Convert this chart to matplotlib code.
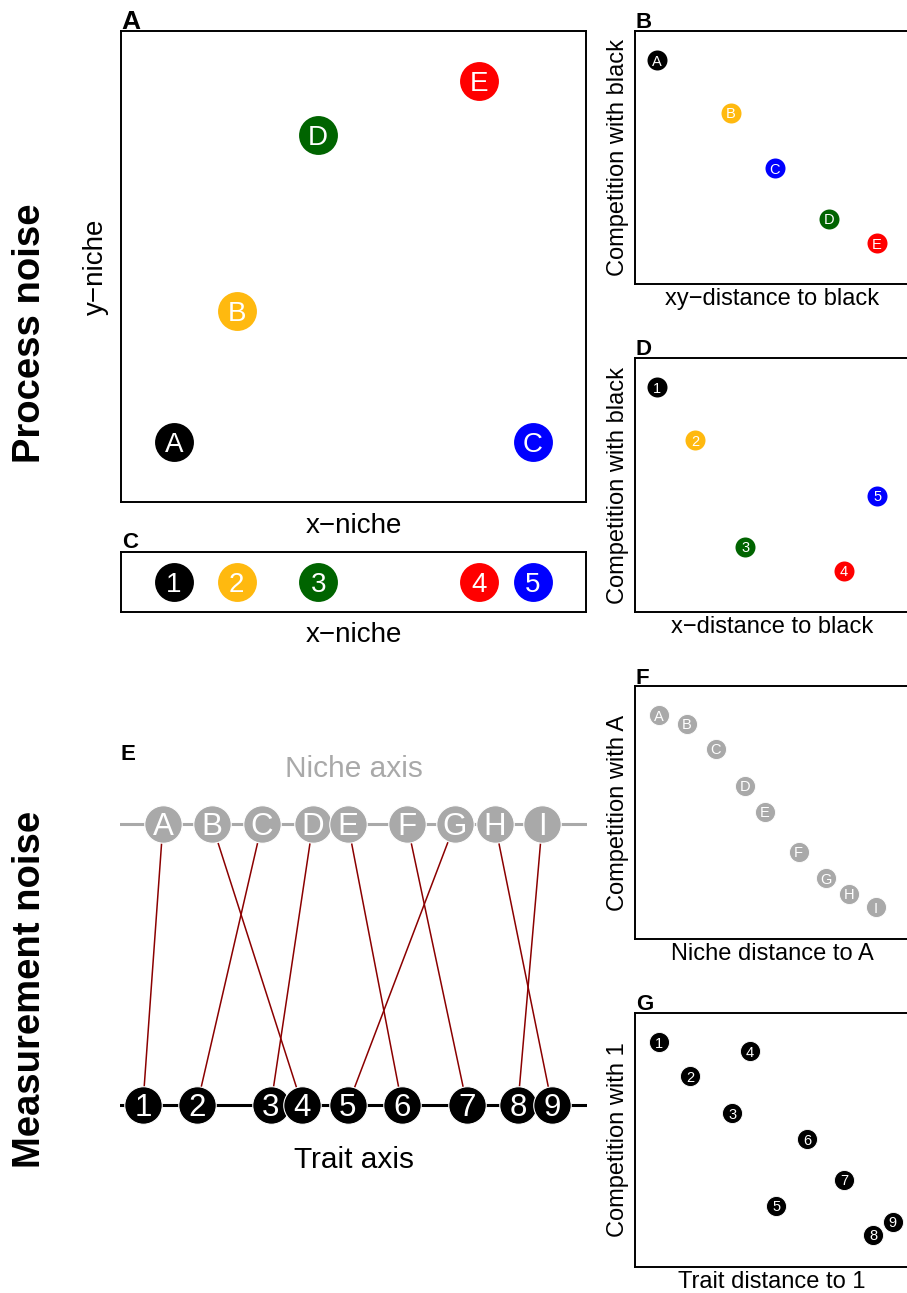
import matplotlib
matplotlib.use('Agg')
import matplotlib.pyplot as plt
import numpy as np

plt.rcParams['font.family'] = ['Liberation Sans', 'DejaVu Sans']

# ---- data ----
# process noise: five species on a 2D niche (panel A) and 1D niche (panel C)
xy_labels = ['A', 'B', 'C', 'D', 'E']
xy_colors = ['black', '#FFB90F', 'blue', 'darkgreen', 'red']
x_niche = [1.14, 2.49, 8.86, 4.24, 7.70]
y_niche = [1.27, 4.05, 1.27, 7.79, 8.93]
xy_dist = [0.0, 2.60, 4.14, 6.04, 7.72]
comp_black = [0.885, 0.676, 0.458, 0.257, 0.162]

# measurement noise: nine species, niche axis vs measured trait axis
niche_labels = ['A', 'B', 'C', 'D', 'E', 'F', 'G', 'H', 'I']
niche_pos = [0.92, 1.97, 3.04, 4.13, 4.88, 6.15, 7.17, 8.03, 9.04]
trait_labels = ['1', '2', '3', '4', '5', '6', '7', '8', '9']
trait_pos = [0.49, 1.65, 3.23, 3.90, 4.88, 6.04, 7.43, 8.52, 9.25]
trait_of_niche = [1, 4, 2, 3, 6, 7, 5, 9, 8]
comp_A = [0.885, 0.850, 0.751, 0.605, 0.502, 0.344, 0.241, 0.178, 0.126]

W, H = 907, 1293
fig = plt.figure(figsize=(W / 100, H / 100), dpi=100)


def box(l, t, r, b):
    return [l / W, 1 - b / H, (r - l) / W, (b - t) / H]


def frame(ax):
    ax.set_xticks([])
    ax.set_yticks([])
    for s in ax.spines.values():
        s.set_linewidth(1.4)


def tag(ax, s, size, dy=1.5):
    ax.annotate(s, (0, 1), xycoords='axes fraction', xytext=(0.5, dy),
                textcoords='offset points', ha='left', va='baseline',
                fontsize=size, fontweight='bold', annotation_clip=False)


def discs(ax, xs, ys, labels, colors, ms, fs, mec='none', mew=0):
    for x, y, c in zip(xs, ys, colors):
        ax.plot(x, y, 'o', ms=ms, color=c, mec=mec, mew=mew, zorder=3, clip_on=False)
    for x, y, lab in zip(xs, ys, labels):
        ax.text(x, y, lab, color='white', fontsize=fs, ha='center',
                va='center_baseline', zorder=4, clip_on=False)


# rank of each species along x (labels of panel C / D)
rank = np.argsort(np.argsort(x_niche))
rank_labels = [str(r + 1) for r in rank]

R = 909  # right edge of the right-hand panels (just past the figure edge)

# ---- A : 2D niche ----
axA = fig.add_axes(box(121, 30.7, 586, 502))
frame(axA)
axA.set_xlim(0, 10)
axA.set_ylim(0, 10)
discs(axA, x_niche, y_niche, xy_labels, xy_colors, 28, 20)
axA.set_xlabel('x\u2212niche', fontsize=20, labelpad=8)
axA.set_ylabel('y\u2212niche', fontsize=20, labelpad=9)
tag(axA, 'A', 19)

# ---- C : 1D niche ----
axC = fig.add_axes(box(121, 552, 586, 612))
frame(axC)
axC.set_xlim(0, 10)
axC.set_ylim(-1, 1)
discs(axC, x_niche, np.zeros(5), rank_labels, xy_colors, 28, 20)
axC.set_xlabel('x\u2212niche', fontsize=20, labelpad=7)
tag(axC, 'C', 16, dy=3)

# ---- B : competition vs xy distance ----
axB = fig.add_axes(box(635, 31, R, 284))
frame(axB)
axB.set_xlim(-0.772, (R - 657) / 28.5)
axB.set_ylim(0, 1)
discs(axB, xy_dist, comp_black, xy_labels, xy_colors, 14.4, 10.5)
axB.set_xlabel('xy\u2212distance to black', fontsize=17, labelpad=3)
axB.set_ylabel('Competition with black', fontsize=17, labelpad=4)
tag(axB, 'B', 16, dy=2.5)

# ---- D : competition vs x distance ----
axD = fig.add_axes(box(635, 358, R, 612))
frame(axD)
axD.set_xlim(-0.772, (R - 657) / 28.5)
axD.set_ylim(0, 1)
x_dist = np.abs(np.array(x_niche) - x_niche[0])
discs(axD, x_dist, comp_black, rank_labels, xy_colors, 14.4, 10.5)
axD.set_xlabel('x\u2212distance to black', fontsize=17, labelpad=3)
axD.set_ylabel('Competition with black', fontsize=17, labelpad=4)
tag(axD, 'D', 16, dy=2.5)

# ---- E : niche axis vs trait axis ----
axE = fig.add_axes(box(120, 700, 587, 1200))
axE.axis('off')
axE.set_xlim(0, 10)
axE.set_ylim(0, 1)
y_top, y_bot = 0.752, 0.19
axE.axhline(y_top, color='darkgray', lw=2.2, zorder=1)
axE.axhline(y_bot, color='black', lw=2.2, zorder=1)
for i, t in enumerate(trait_of_niche):
    axE.plot([niche_pos[i], trait_pos[t - 1]], [y_top, y_bot], color='darkred', lw=1.1, zorder=2)
discs(axE, niche_pos, [y_top] * 9, niche_labels, ['darkgray'] * 9, 27, 22.5, mec='white', mew=0.8)
discs(axE, trait_pos, [y_bot] * 9, trait_labels, ['black'] * 9, 27, 22.5, mec='white', mew=0.8)
axE.text(0.5, 0.862, 'Niche axis', transform=axE.transAxes, ha='center', va='center',
         fontsize=21.5, color='darkgray')
axE.text(0.5, 0.08, 'Trait axis', transform=axE.transAxes, ha='center', va='center',
         fontsize=21.5)
fig.text(121 / W, 1 - 760 / H, 'E', fontsize=16, fontweight='bold', ha='left', va='baseline')

# ---- F : competition vs niche distance ----
axF = fig.add_axes(box(635, 686, R, 939))
frame(axF)
axF.set_xlim(-0.90, (R - 659) / 26.7)
axF.set_ylim(0, 1)
n_dist = np.array(niche_pos) - niche_pos[0]
discs(axF, n_dist, comp_A, niche_labels, ['darkgray'] * 9, 14.4, 10.5, mec='white', mew=0.6)
axF.set_xlabel('Niche distance to A', fontsize=17, labelpad=3)
axF.set_ylabel('Competition with A', fontsize=17, labelpad=4)
tag(axF, 'F', 16, dy=1.5)

# ---- G : competition vs trait distance ----
axG = fig.add_axes(box(635, 1013, R, 1267))
frame(axG)
axG.set_xlim(-0.90, (R - 659) / 26.7)
axG.set_ylim(0, 1)
t_idx = np.array(trait_of_niche) - 1
t_dist = np.array(trait_pos)[t_idx] - trait_pos[0]
discs(axG, t_dist, comp_A, [trait_labels[k] for k in t_idx], ['black'] * 9, 14.4, 10.5,
      mec='white', mew=0.6)
axG.set_xlabel('Trait distance to 1', fontsize=17, labelpad=3)
axG.set_ylabel('Competition with 1', fontsize=17, labelpad=4)
tag(axG, 'G', 16, dy=2.5)

# row titles
fig.text(30 / W, 1 - 333 / H, 'Process noise', rotation=90, fontsize=27.5,
         fontweight='bold', ha='center', va='center')
fig.text(30 / W, 1 - 989 / H, 'Measurement noise', rotation=90, fontsize=27.5,
         fontweight='bold', ha='center', va='center')

fig.savefig('out.png', dpi=100)
